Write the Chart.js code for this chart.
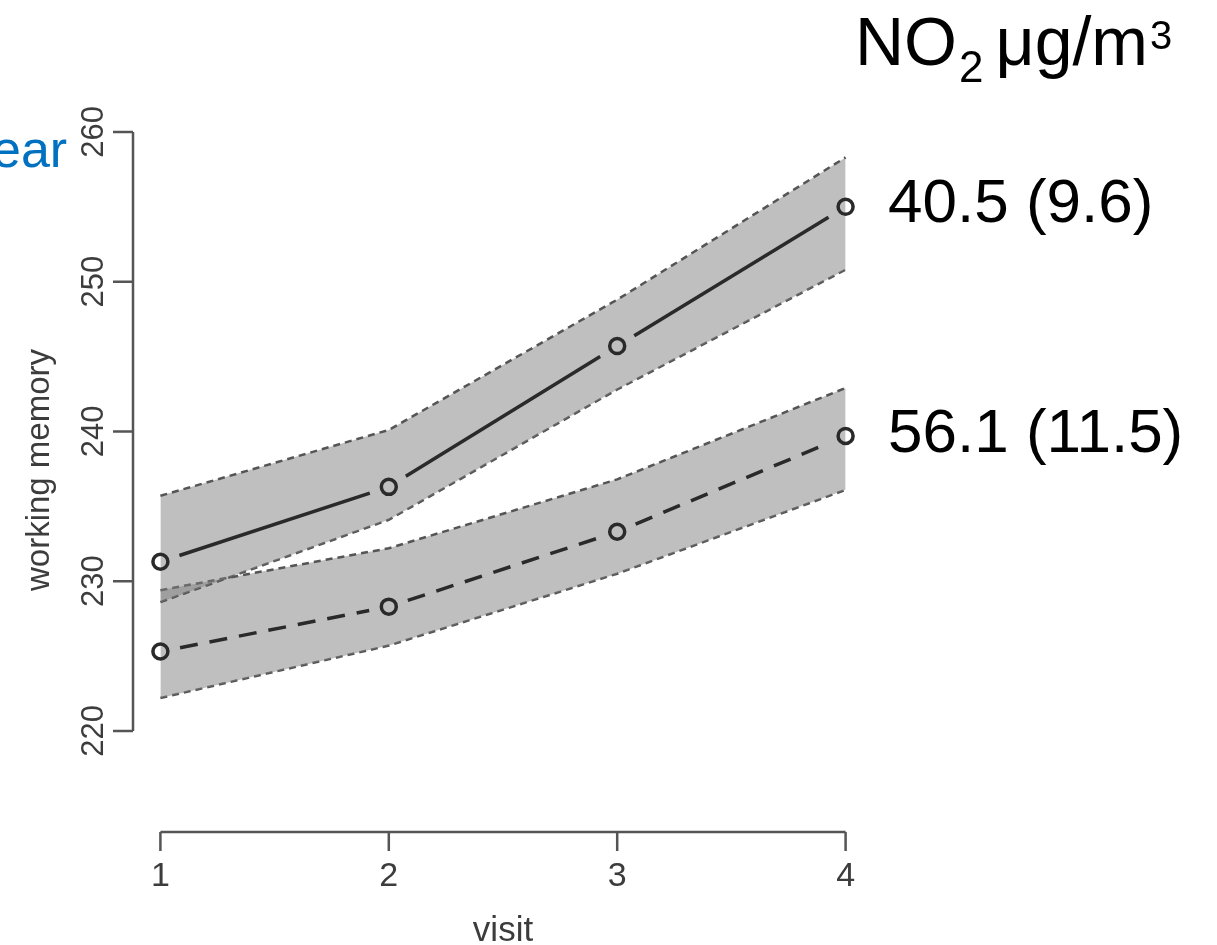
<!DOCTYPE html>
<html>
<head>
<meta charset="utf-8">
<script src="https://cdn.jsdelivr.net/npm/chart.js@4.4.1/dist/chart.umd.min.js"></script>
<style>
  html, body { margin: 0; padding: 0; background: #fff; }
  canvas { display: block; }
</style>
</head>
<body>
<canvas id="chart-area" width="1217" height="945"></canvas>
<script>
// values
const visits = [1, 2, 3, 4];
const lowMean  = [231.3, 236.3, 245.7, 255.0];
const lowUpper = [235.7, 240.1, 248.8, 258.3];
const lowLower = [228.6, 234.1, 242.8, 250.8];
const highMean  = [225.3, 228.3, 233.3, 239.7];
const highUpper = [229.4, 232.2, 236.8, 242.9];
const highLower = [222.2, 225.7, 230.5, 236.1];
const yTicks = [220, 230, 240, 250, 260];
const xTicks = [1, 2, 3, 4];
const seriesLabels = ['40.5 (9.6)', '56.1 (11.5)'];

const FONT = "'Liberation Sans', Arial, Helvetica, sans-serif";
const BAND = 'rgba(128,128,128,0.5)';
const EDGE = '#555';
const INK = '#2a2a2a';

function pts(arr) {
    return visits.map((v, i) => ({x: v, y: arr[i]}));
}

// R type="b" look: leave a gap round every point, optionally dashed
function gapDash(pattern, gap) {
    return function(ctx) {
        const L = Math.hypot(ctx.p1.x - ctx.p0.x, ctx.p1.y - ctx.p0.y);
        const end = L - gap;
        const arr = [0, gap];
        if (!pattern) {
            arr.push(Math.max(end - gap, 0), gap + 1000);
            return arr;
        }
        let pos = gap, i = 0;
        while (pos < end - 0.01) {
            const len = Math.min(pattern[i % 2], end - pos);
            arr.push(len);
            pos += len;
            i++;
        }
        if (arr.length % 2) arr.push(1000); else arr[arr.length - 1] += 1000;
        return arr;
    };
}

function edge(arr, fill) {
    return {
        data: pts(arr), fill: fill, backgroundColor: BAND,
        borderColor: EDGE, borderWidth: 2.5, borderDash: [7, 5],
        pointRadius: 0, tension: 0, order: 10
    };
}

const axesPlugin = {
    id: 'rAxes',
    afterDraw: function(chart) {
        const c = chart.ctx, xs = chart.scales.x, ys = chart.scales.y;
        const area = chart.chartArea;
        c.save();
        c.strokeStyle = '#555';
        c.lineWidth = 2.5;
        c.fillStyle = '#3c3c3c';

        // y axis (left, only tick range)
        const ax = area.left;
        c.beginPath();
        c.moveTo(ax, ys.getPixelForValue(yTicks[0]));
        c.lineTo(ax, ys.getPixelForValue(yTicks[yTicks.length - 1]));
        yTicks.forEach(t => {
            const py = ys.getPixelForValue(t);
            c.moveTo(ax, py);
            c.lineTo(ax - 20, py);
        });
        c.stroke();
        c.font = '31px ' + FONT;
        c.textAlign = 'center';
        c.textBaseline = 'middle';
        yTicks.forEach(t => {
            const py = ys.getPixelForValue(t);
            c.save();
            c.translate(ax - 39, py);
            c.rotate(-Math.PI / 2);
            c.fillText(String(t), 0, 0);
            c.restore();
        });
        c.save();
        c.translate(40, 470);
        c.rotate(-Math.PI / 2);
        c.font = '33px ' + FONT;
        c.fillText('working memory', 0, 0);
        c.restore();

        // x axis (bottom)
        const ay = area.bottom;
        c.beginPath();
        c.moveTo(xs.getPixelForValue(xTicks[0]), ay);
        c.lineTo(xs.getPixelForValue(xTicks[xTicks.length - 1]), ay);
        xTicks.forEach(t => {
            const px = xs.getPixelForValue(t);
            c.moveTo(px, ay);
            c.lineTo(px, ay + 19);
        });
        c.stroke();
        c.font = '34px ' + FONT;
        c.textBaseline = 'alphabetic';
        xTicks.forEach(t => {
            c.fillText(String(t), xs.getPixelForValue(t), ay + 54);
        });
        c.font = '35px ' + FONT;
        c.fillText('visit', (xs.getPixelForValue(1) + xs.getPixelForValue(4)) / 2, 941);

        // annotations
        c.fillStyle = '#000';
        c.textAlign = 'left';
        c.font = '62px ' + FONT;
        c.fillText(seriesLabels[0], 888, 222);
        c.fillText(seriesLabels[1], 888, 452);

        c.font = '68px ' + FONT;
        c.fillText('NO', 855, 65);
        let x = 855 + c.measureText('NO').width;
        c.font = '44px ' + FONT;
        c.fillText('2', x + 2, 82);
        x += 2 + c.measureText('2').width + 12;
        c.font = '68px ' + FONT;
        c.fillText('\u03bcg/m', x, 65);
        x += c.measureText('\u03bcg/m').width;
        c.font = '40px ' + FONT;
        c.fillText('3', x + 2, 49);

        c.fillStyle = '#0070C0';
        c.font = '52px ' + FONT;
        c.fillText('ear', -8, 167);
        c.restore();
    }
};

const chart = new Chart(document.getElementById('chart-area'), {
    type: 'line',
    data: {
        datasets: [
            edge(lowUpper, '+1'),
            edge(lowLower, false),
            edge(highUpper, '+1'),
            edge(highLower, false),
            {
                data: pts(lowMean), borderColor: INK, borderWidth: 3.5,
                pointRadius: 7.5, pointBorderWidth: 3.5, pointBorderColor: INK,
                pointBackgroundColor: 'rgba(0,0,0,0)', fill: false, order: 1,
                segment: {borderDash: gapDash(null, 20)}
            },
            {
                data: pts(highMean), borderColor: INK, borderWidth: 3.5,
                pointRadius: 7.5, pointBorderWidth: 3.5, pointBorderColor: INK,
                pointBackgroundColor: 'rgba(0,0,0,0)', fill: false, order: 1,
                segment: {borderDash: gapDash([18, 12], 20)}
            }
        ]
    },
    options: {
        responsive: false,
        animation: false,
        layout: {padding: {left: 133, right: 344, top: 102, bottom: 113}},
        plugins: {legend: {display: false}, tooltip: {enabled: false}},
        scales: {
            x: {type: 'linear', min: 0.88, max: 4.12, display: false},
            y: {type: 'linear', min: 213.25, max: 262, display: false}
        }
    },
    plugins: [axesPlugin]
});
</script>
</body>
</html>
